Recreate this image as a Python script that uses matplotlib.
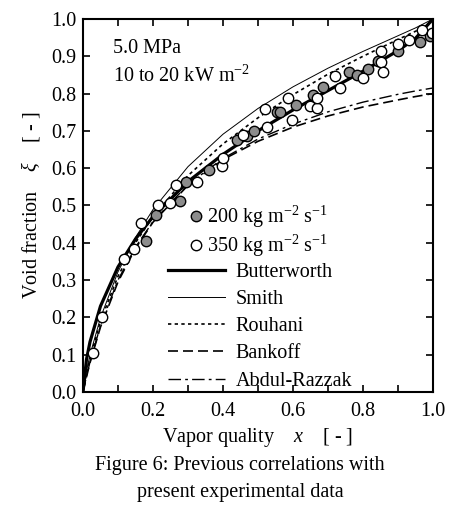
import matplotlib
matplotlib.use("Agg")
import matplotlib.pyplot as plt
from matplotlib.ticker import MultipleLocator

plt.rcParams["font.family"] = ["Liberation Serif", "DejaVu Serif"]
plt.rcParams["mathtext.fontset"] = "custom"
plt.rcParams["mathtext.rm"] = "Liberation Serif"
plt.rcParams["mathtext.it"] = "Liberation Serif:italic"

# Donnees
x_200 = [0.18, 0.21, 0.278, 0.294, 0.36, 0.44, 0.468, 0.49, 0.553, 0.563, 0.61,
         0.657, 0.685, 0.76, 0.783, 0.815, 0.843, 0.90, 0.963, 0.991]
xi_200 = [0.405, 0.475, 0.512, 0.563, 0.595, 0.676, 0.686, 0.70, 0.751, 0.75, 0.77,
          0.796, 0.818, 0.858, 0.85, 0.865, 0.887, 0.915, 0.938, 0.955]

x_350 = [0.03, 0.054, 0.117, 0.145, 0.165, 0.215, 0.25, 0.265, 0.326, 0.397, 0.40,
         0.457, 0.52, 0.527, 0.586, 0.597, 0.649, 0.668, 0.67, 0.72, 0.734, 0.80,
         0.851, 0.851, 0.857, 0.90, 0.931, 0.969, 0.997]
xi_350 = [0.105, 0.20, 0.356, 0.383, 0.453, 0.50, 0.507, 0.555, 0.563, 0.606, 0.628,
          0.69, 0.758, 0.71, 0.787, 0.73, 0.766, 0.76, 0.788, 0.847, 0.815, 0.842,
          0.915, 0.885, 0.857, 0.934, 0.944, 0.97, 0.962]

# Correlations (valeurs lues le long des courbes)
x_corr = [0.0, 0.01, 0.02, 0.05, 0.1, 0.15, 0.2, 0.3, 0.4, 0.5, 0.6, 0.7, 0.8, 0.9, 0.95, 1.0]
butterworth = [0.0, 0.087, 0.134, 0.23, 0.335, 0.41, 0.47, 0.564, 0.637, 0.70, 0.756,
               0.808, 0.86, 0.915, 0.948, 1.0]
smith = [0.0, 0.056, 0.099, 0.199, 0.322, 0.414, 0.489, 0.604, 0.691, 0.76, 0.818,
         0.868, 0.913, 0.955, 0.976, 1.0]
rouhani = [0.0, 0.05, 0.09, 0.19, 0.31, 0.40, 0.47, 0.58, 0.665, 0.735, 0.797,
           0.852, 0.90, 0.945, 0.967, 0.99]
bankoff = [0.0, 0.04, 0.078, 0.174, 0.295, 0.385, 0.455, 0.554, 0.623, 0.672, 0.71,
           0.74, 0.764, 0.783, 0.792, 0.80]
abdul_razzak = [0.0, 0.042, 0.08, 0.178, 0.30, 0.388, 0.457, 0.556, 0.626, 0.678, 0.718,
                0.751, 0.777, 0.798, 0.807, 0.815]

fig = plt.figure(figsize=(4.51, 5.13), dpi=100)
ax = fig.add_axes([0.184, 0.236, 0.776, 0.727])

l1, = ax.plot(x_corr, butterworth, color="black", lw=2.3, label="Butterworth")
l2, = ax.plot(x_corr, smith, color="black", lw=0.7, label="Smith")
l3, = ax.plot(x_corr, rouhani, color="black", lw=1.2, ls=(0, (2, 2)), label="Rouhani")
l4, = ax.plot(x_corr, bankoff, color="black", lw=1.2, ls=(0, (6, 3)), label="Bankoff")
l5, = ax.plot(x_corr, abdul_razzak, color="black", lw=1.0, ls=(0, (9, 3, 2, 3)),
              label="Abdul-Razzak")

m1, = ax.plot(x_200, xi_200, "o", ms=7.5, mfc="#8c8c8c", mec="black", mew=1.0,
              ls="none", label="200 kg m$^{-2}$ s$^{-1}$")
m2, = ax.plot(x_350, xi_350, "o", ms=7.5, mfc="white", mec="black", mew=1.0,
              ls="none", label="350 kg m$^{-2}$ s$^{-1}$")

ax.set_xlim(0, 1)
ax.set_ylim(0, 1)
ax.xaxis.set_major_locator(MultipleLocator(0.2))
ax.xaxis.set_minor_locator(MultipleLocator(0.1))
ax.yaxis.set_major_locator(MultipleLocator(0.1))
ax.set_xticklabels([f"{v:.1f}" for v in ax.get_xticks()])
ax.set_yticklabels([f"{v:.1f}" for v in ax.get_yticks()])
ax.tick_params(which="both", direction="in", top=True, right=True, length=5,
               width=1.2, labelsize=14.5)
ax.tick_params(axis="x", pad=7)
ax.tick_params(axis="y", pad=5)
for s in ax.spines.values():
    s.set_linewidth(1.5)

ax.set_xlabel("Vapor quality    $x$    [ - ]", fontsize=14.5, labelpad=4)
ax.set_ylabel("Void fraction    $\\xi$    [ - ]", fontsize=14.5, labelpad=6)

ax.text(0.086, 0.909, "5.0 MPa", transform=ax.transAxes, fontsize=14.5, va="baseline")
ax.text(0.086, 0.831, "10 to 20 kW m$^{-2}$", transform=ax.transAxes, fontsize=14.5,
        va="baseline")

leg1 = ax.legend(handles=[m1, m2], loc="upper left", bbox_to_anchor=(0.306, 0.505),
                 frameon=False, fontsize=14.5, handlelength=0.6, handletextpad=0.25,
                 borderpad=0, borderaxespad=0, labelspacing=0.15)
ax.add_artist(leg1)
ax.legend(handles=[l1, l2, l3, l4, l5], loc="upper left", bbox_to_anchor=(0.243, 0.346),
          frameon=False, fontsize=14.5, handlelength=2.85, handletextpad=0.5,
          borderpad=0, borderaxespad=0, labelspacing=0.4)

fig.text(0.532, 0.0838, "Figure 6: Previous correlations with", ha="center",
         va="baseline", fontsize=14.5)
fig.text(0.532, 0.0312, "present experimental data", ha="center", va="baseline",
         fontsize=14.5)

fig.savefig("out.png", dpi=100)
